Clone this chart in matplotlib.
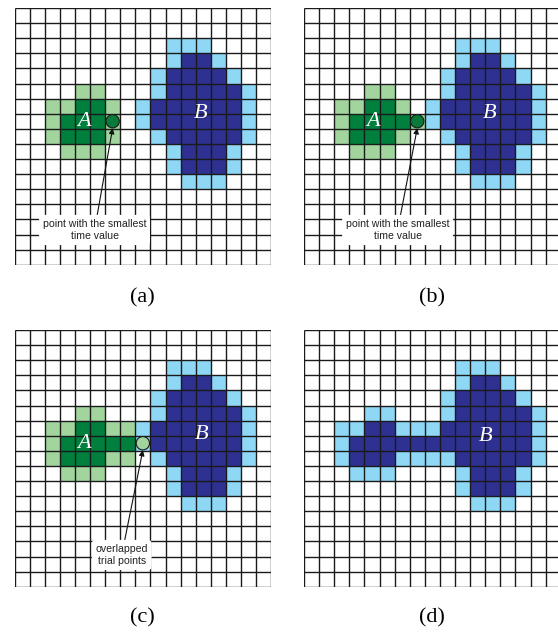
import numpy as np
import matplotlib
matplotlib.use("Agg")
import matplotlib.pyplot as plt
from matplotlib.colors import ListedColormap
from matplotlib.patches import Circle

# cell states: . empty, g trial (A), G accepted (A), b trial (B), B accepted (B)
GRID_A = [
    ".................",
    ".................",
    "..........bbb....",
    "..........bBBb...",
    ".........bBBBBb..",
    "....gg...bBBBBBb.",
    "..ggGGg.bBBBBBBb.",
    "..gGGGg.bBBBBBBb.",
    "..gGGGg..bBBBBBb.",
    "...ggg....bBBBb..",
    "..........bBBBb..",
    "...........bbb...",
    ".................",
    ".................",
    ".................",
    ".................",
    ".................",
]
GRID_B = [
    ".................",
    ".................",
    "..........bbb....",
    "..........bBBb...",
    ".........bBBBBb..",
    "....gg...bBBBBBb.",
    "..ggGGg.bBBBBBBb.",
    "..gGGGGgbBBBBBBb.",
    "..gGGGg..bBBBBBb.",
    "...ggg....bBBBb..",
    "..........bBBBb..",
    "...........bbb...",
    ".................",
    ".................",
    ".................",
    ".................",
    ".................",
]
GRID_C = [
    ".................",
    ".................",
    "..........bbb....",
    "..........bBBb...",
    ".........bBBBBb..",
    "....gg...bBBBBBb.",
    "..ggGGggbBBBBBBb.",
    "..gGGGGGbBBBBBBb.",
    "..gGGGgg.bBBBBBb.",
    "...ggg....bBBBb..",
    "..........bBBBb..",
    "...........bbb...",
    ".................",
    ".................",
    ".................",
    ".................",
    ".................",
]
GRID_D = [
    ".................",
    ".................",
    "..........bbb....",
    "..........bBBb...",
    ".........bBBBBb..",
    "....bb...bBBBBBb.",
    "..bbBBbbbBBBBBBb.",
    "..bBBBBBBBBBBBBb.",
    "..bBBBbbbbBBBBBb.",
    "...bbb....bBBBb..",
    "..........bBBBb..",
    "...........bbb...",
    ".................",
    ".................",
    ".................",
    ".................",
    ".................",
]

grids = [GRID_A, GRID_B, GRID_C, GRID_D]
panel_labels = ["(a)", "(b)", "(c)", "(d)"]
label_A = [(4.6, 7.5), (4.55, 7.5), (4.6, 7.5), None]
label_B = [(12.35, 7.0), (12.3, 7.0), (12.37, 6.95), (12.0, 7.05)]
points = [(6.5, 7.5), (7.5, 7.5), (8.5, 7.5), None]
notes = ["point with the smallest\ntime value", "point with the smallest\ntime value",
         "overlapped\ntrial points", None]
note_pos = [(5.3, 14.7), (6.2, 14.7), (7.1, 14.9), None]

codes = {".": 0, "g": 1, "G": 2, "b": 3, "B": 4}
cmap = ListedColormap(["#ffffff", "#a2d59e", "#007f3d", "#8fd8f5", "#2e3192"])
point_colors = ["#0a7a3a", "#0a7a3a", "#a2d59e", None]

W, H = 558, 633
fig = plt.figure(figsize=(W / 100, H / 100), dpi=100)

cell = 15.1
n = 17
origins = [(14.5, 8), (304, 8), (14.5, 330), (304, 330)]  # pixel top-left
label_xy = [(142.5, 298), (432, 298), (142.5, 618), (432, 618)]

for i, grid in enumerate(grids):
    x0, y0 = origins[i]
    ax = fig.add_axes([x0 / W, 1 - (y0 + n * cell) / H, n * cell / W, n * cell / H])
    arr = np.array([[codes[ch] for ch in row] for row in grid])
    ax.imshow(arr, cmap=cmap, vmin=0, vmax=4, extent=[0, n, n, 0],
              interpolation="nearest", aspect="auto")
    ax.vlines(np.arange(n + 1), 0, n, colors="#1a1a1a", linewidth=1.0)
    ax.hlines(np.arange(n + 1), 0, n, colors="#1a1a1a", linewidth=1.0)
    ax.set_xlim(0, n)
    ax.set_ylim(n, 0)
    ax.axis("off")

    if label_A[i]:
        ax.text(*label_A[i], "A", color="white", fontsize=16, style="italic",
                family="Liberation Serif", ha="center", va="center")
    ax.text(*label_B[i], "B", color="white", fontsize=16, style="italic",
            family="Liberation Serif", ha="center", va="center")

    if points[i]:
        ax.add_patch(Circle(points[i], 0.44, facecolor=point_colors[i],
                            edgecolor="#1a1a1a", linewidth=0.8, zorder=5))
        px, py = points[i]
        ax.annotate(notes[i], xy=(px, py + 0.46), xytext=note_pos[i],
                    ha="center", va="center", fontsize=7.6, linespacing=1.35,
                    family="Liberation Sans", color="#222222", zorder=6,
                    bbox=dict(boxstyle="round,pad=0.35", fc="white", ec="none"),
                    arrowprops=dict(arrowstyle="-|>", color="#111111", lw=0.8,
                                    mutation_scale=8, shrinkA=0, shrinkB=0))

    lx, ly = label_xy[i]
    fig.text(lx / W, 1 - ly / H, panel_labels[i], fontsize=16,
             family="Liberation Serif", ha="center", va="center")

fig.savefig("out.png", dpi=100)
